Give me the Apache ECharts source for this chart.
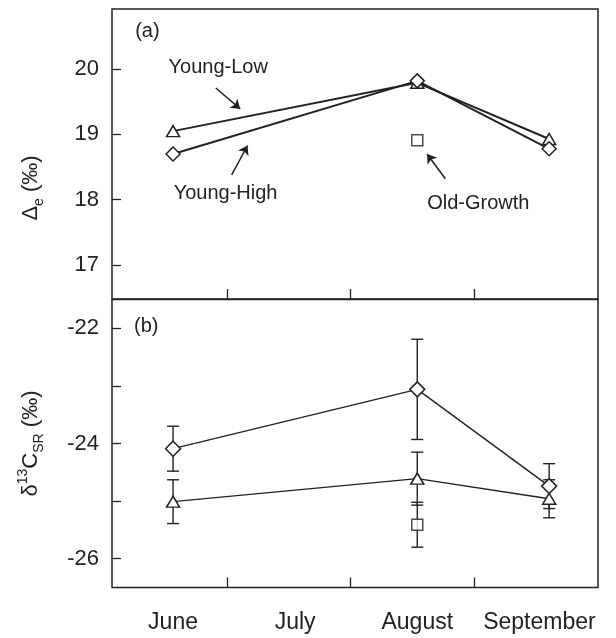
<!DOCTYPE html>
<html>
<head>
<meta charset="utf-8">
<style>
  html,body{margin:0;padding:0;background:#fff;}
  #chart{width:616px;height:638px;}
</style>
<script src="https://cdn.jsdelivr.net/npm/echarts@6/dist/echarts.min.js"></script>
</head>
<body>
<div id="chart"></div>
<script>
// months along x: June = 1, July = 2, August = 3, September = 4
var monthLabels = ['June', 'July', 'August', 'September'];
var monthLabelPos = [1, 2, 3, 4];
var monthTicks = [1.44, 2.455, 3.465];
var sampleX = [1, 3, 4.08];
var oldGrowthX = [3];

// (a) discrimination
var youngLowDelta = [19.05, 19.79, 18.93];
var youngHighDelta = [18.70, 19.82, 18.78];
var oldGrowthDelta = [18.91];
var deltaTicks = [17, 18, 19, 20];

// (b) d13C of soil respiration, with error half widths
var youngLowD13 = [-25.01, -24.61, -24.96];
var youngLowD13Err = [0.38, 0.46, 0.33];
var youngHighD13 = [-24.09, -23.06, -24.74];
var youngHighD13Err = [0.39, 0.87, 0.39];
var oldGrowthD13 = [-25.41];
var oldGrowthD13Err = [0.39];
var d13Ticks = [-26, -25, -24, -23, -22];
var d13Labels = [-26, -24, -22];

var ink = '#222';
var font = 'Liberation Sans, Arial, sans-serif';

function pairs(xs, ys) {
  return xs.map(function (x, i) { return [x, ys[i]]; });
}
function errRows(xs, ys, es) {
  return xs.map(function (x, i) { return [x, ys[i] - es[i], ys[i] + es[i]]; });
}
function errorBars(rows) {
  return {
    type: 'custom',
    xAxisIndex: 1, yAxisIndex: 1,
    z: 1,
    silent: true,
    renderItem: function (params, api) {
      var lo = api.coord([api.value(0), api.value(1)]);
      var hi = api.coord([api.value(0), api.value(2)]);
      var w = 6;
      var st = {stroke: ink, lineWidth: 1.4};
      return {
        type: 'group',
        children: [
          {type: 'line', shape: {x1: lo[0], y1: lo[1], x2: hi[0], y2: hi[1]}, style: st},
          {type: 'line', shape: {x1: lo[0] - w, y1: lo[1], x2: lo[0] + w, y2: lo[1]}, style: st},
          {type: 'line', shape: {x1: hi[0] - w, y1: hi[1], x2: hi[0] + w, y2: hi[1]}, style: st}
        ]
      };
    },
    data: rows
  };
}
function arrow(from, to) {
  return [{coord: from, symbol: 'none'}, {coord: to, symbol: 'arrow'}];
}
function note(name, at) {
  return {name: name, coord: at};
}

var markerStyle = {color: '#fff', borderColor: ink, borderWidth: 1.5};

var chart = echarts.init(document.getElementById('chart'));
chart.setOption({
  animation: false,
  textStyle: {fontFamily: font, color: ink},
  grid: [
    {left: 112, right: 18, top: 9, height: 290, show: true, borderColor: ink, borderWidth: 1.5},
    {left: 112, right: 18, top: 299.5, height: 288, show: true, borderColor: ink, borderWidth: 1.5}
  ],
  xAxis: [
    {
      type: 'value', gridIndex: 0, min: 0.5, max: 4.48,
      axisLine: {show: false}, splitLine: {show: false},
      axisTick: {inside: true, length: 10, customValues: monthTicks, lineStyle: {color: ink, width: 1.3}},
      axisLabel: {show: false}
    },
    {
      type: 'value', gridIndex: 1, min: 0.5, max: 4.48,
      axisLine: {show: false}, splitLine: {show: false},
      axisTick: {inside: true, length: 10, customValues: monthTicks, lineStyle: {color: ink, width: 1.3}},
      axisLabel: {
        customValues: monthLabelPos, margin: 24, fontSize: 23, color: ink, fontFamily: font,
        formatter: function (v) { return monthLabels[Math.round(v) - 1]; }
      }
    }
  ],
  yAxis: [
    {
      type: 'value', gridIndex: 0, min: 16.48, max: 20.92,
      axisLine: {show: false}, splitLine: {show: false},
      axisTick: {inside: true, length: 9, customValues: deltaTicks, lineStyle: {color: ink, width: 1.3}},
      axisLabel: {customValues: deltaTicks, margin: 13, fontSize: 22, color: ink, fontFamily: font},
      name: '{b|Δ}{s|e}{b| (‰)}',
      nameLocation: 'middle', nameRotate: 90, nameGap: 66,
      nameTextStyle: {
        padding: [0, 68, 0, 0],
        rich: {
          b: {fontSize: 22, lineHeight: 30, color: ink, fontFamily: font},
          s: {fontSize: 14, lineHeight: 12, verticalAlign: 'bottom', color: ink, fontFamily: font}
        }
      }
    },
    {
      type: 'value', gridIndex: 1, min: -26.5, max: -21.5,
      axisLine: {show: false}, splitLine: {show: false},
      axisTick: {inside: true, length: 9, customValues: d13Ticks, lineStyle: {color: ink, width: 1.3}},
      axisLabel: {customValues: d13Labels, margin: 13, fontSize: 22, color: ink, fontFamily: font},
      name: '{b|δ}{p|13}{b|C}{s|SR}{b| (‰)}',
      nameLocation: 'middle', nameRotate: 90, nameGap: 66,
      nameTextStyle: {
        rich: {
          b: {fontSize: 22, lineHeight: 30, color: ink, fontFamily: font},
          p: {fontSize: 14, lineHeight: 12, verticalAlign: 'top', color: ink, fontFamily: font},
          s: {fontSize: 14, lineHeight: 12, verticalAlign: 'bottom', color: ink, fontFamily: font}
        }
      }
    }
  ],
  series: [
    {
      name: 'Young-Low', type: 'line', xAxisIndex: 0, yAxisIndex: 0, z: 3,
      data: pairs(sampleX, youngLowDelta),
      symbol: 'triangle', symbolSize: [13, 11], itemStyle: markerStyle,
      lineStyle: {color: ink, width: 2},
      markLine: {
        silent: true, symbolSize: 9, label: {show: false},
        lineStyle: {color: ink, width: 1.5, type: 'solid'},
        data: [
          arrow([1.35, 19.71], [1.55, 19.39]),
          arrow([1.48, 18.38], [1.61, 18.83]),
          arrow([3.23, 18.32], [3.08, 18.70])
        ]
      },
      markPoint: {
        silent: true, symbol: 'rect', symbolSize: 1, itemStyle: {color: 'rgba(0,0,0,0)'},
        label: {show: true, position: 'inside', formatter: '{b}', fontSize: 20, color: ink, fontFamily: font},
        data: [
          note('(a)', [0.79, 20.58]),
          note('Young-Low', [1.37, 20.02]),
          note('Young-High', [1.43, 18.10]),
          note('Old-Growth', [3.50, 17.94])
        ]
      }
    },
    {
      name: 'Young-High', type: 'line', xAxisIndex: 0, yAxisIndex: 0, z: 3,
      data: pairs(sampleX, youngHighDelta),
      symbol: 'diamond', symbolSize: [14, 14], itemStyle: markerStyle,
      lineStyle: {color: ink, width: 2}
    },
    {
      name: 'Old-Growth', type: 'scatter', xAxisIndex: 0, yAxisIndex: 0, z: 3,
      data: pairs(oldGrowthX, oldGrowthDelta),
      symbol: 'rect', symbolSize: [11, 11], itemStyle: markerStyle
    },
    errorBars(errRows(sampleX, youngLowD13, youngLowD13Err)),
    errorBars(errRows(sampleX, youngHighD13, youngHighD13Err)),
    errorBars(errRows(oldGrowthX, oldGrowthD13, oldGrowthD13Err)),
    {
      name: 'Young-Low', type: 'line', xAxisIndex: 1, yAxisIndex: 1, z: 3,
      data: pairs(sampleX, youngLowD13),
      symbol: 'triangle', symbolSize: [13, 11], itemStyle: markerStyle,
      lineStyle: {color: ink, width: 1.4},
      markPoint: {
        silent: true, symbol: 'rect', symbolSize: 1, itemStyle: {color: 'rgba(0,0,0,0)'},
        label: {show: true, position: 'inside', formatter: '{b}', fontSize: 20, color: ink, fontFamily: font},
        data: [note('(b)', [0.78, -21.97])]
      }
    },
    {
      name: 'Young-High', type: 'line', xAxisIndex: 1, yAxisIndex: 1, z: 3,
      data: pairs(sampleX, youngHighD13),
      symbol: 'diamond', symbolSize: [15, 15], itemStyle: markerStyle,
      lineStyle: {color: ink, width: 1.4}
    },
    {
      name: 'Old-Growth', type: 'scatter', xAxisIndex: 1, yAxisIndex: 1, z: 3,
      data: pairs(oldGrowthX, oldGrowthD13),
      symbol: 'rect', symbolSize: [11, 11], itemStyle: markerStyle
    }
  ]
});
</script>
</body>
</html>
